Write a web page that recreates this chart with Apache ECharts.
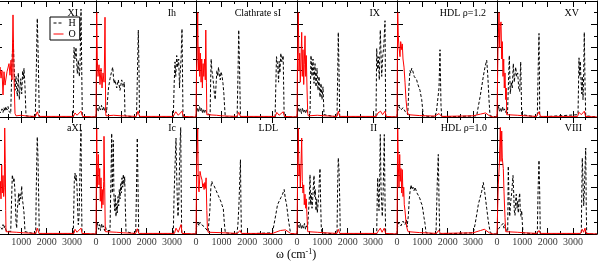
<!DOCTYPE html>
<html><head><meta charset="utf-8">
<script src="https://cdn.jsdelivr.net/npm/echarts@6/dist/echarts.min.js"></script>
<style>html,body{margin:0;padding:0;background:#fff}#c{width:598px;height:263px}</style>
</head><body><div id="c"></div>
<script>
// ---------------- data (ω in cm^-1, VDOS in arbitrary units) ----------------
const panelNames = ['XI','Ih','Clathrate sI','IX','HDL ρ=1.2','XV','aXI','Ic','LDL','II','HDL ρ=1.0','VIII'];
const xTickLabels = [0,1000,2000,3000];

const H_XI = [[0,0],[40,0.2],[79,0.4],[119,0.3],[158,0.5],[198,0.4],[237,0.7],[277,0.4],[316,0.8],[356,0.5],[395,0.9],[435,0.6],[474,0.9],[514,0.5],[553,0.4],[581,0.3],[612,3.0],[644,5.5],[683,6.6],[711,4.5],[751,2.3],[770,3.0],[790,3.5],[818,2.5],[841,1.8],[881,3.8],[920,1.5],[948,2.5],[976,3.3],[1015,2.0],[1055,4.0],[1078,3.3],[1106,4.2],[1146,2.6],[1185,0.1],[1552,0],[1592,4.0],[1620,7.5],[1631,8.5],[1659,6.0],[1687,3.0],[1710,0],[3053,0],[3081,6.0],[3121,5.0],[3160,6.0],[3211,3.75],[3251,4.9],[3290,3.5],[3318,4.3],[3358,9.3],[3409,0],[3950,0]];
const O_XI = [[0,0],[40,1.5],[79,2.5],[119,3.5],[158,4.3],[198,3.35],[237,4.0],[277,1.9],[316,3.9],[356,2.75],[435,3.9],[514,4.6],[553,3.6],[593,4.9],[632,3.2],[672,8.8],[711,3.5],[751,0.3],[790,0.1],[1000,0.15],[1200,0.08],[1560,0.05],[1631,0.45],[1700,0.05],[3060,0.05],[3120,0.35],[3200,0.15],[3358,0.5],[3420,0.05],[3950,0]];

const H_Ih = [[0,0],[20,0.5],[59,0.8],[99,0.5],[138,0.9],[178,0.6],[217,1.0],[257,0.6],[296,0.9],[336,0.5],[375,0.8],[415,0.4],[446,0.3],[494,2.5],[553,3.3],[604,3.8],[660,4.3],[711,2.9],[751,3.2],[818,2.5],[881,3.2],[948,2.3],[1015,3.2],[1078,2.6],[1118,3.0],[1146,0.1],[1600,0],[1639,4],[1671,7.5],[1699,4],[1718,0],[3053,0],[3090,3],[3121,4.75],[3150,3.5],[3188,5.3],[3227,4.3],[3267,5.0],[3300,2.5],[3318,3.5],[3360,5],[3397,7.6],[3437,0],[3950,0]];
const O_Ih = [[0,0],[15,5],[28,9.0],[51,5],[79,3.5],[119,4.5],[158,2.8],[198,4.2],[237,2.5],[277,3.8],[316,3.0],[336,5],[356,8.6],[383,0.3],[395,0.1],[700,0.15],[1000,0.1],[1590,0.05],[1660,0.5],[1720,0.05],[3050,0.05],[3150,0.45],[3250,0.15],[3397,0.5],[3450,0.05],[3950,0]];

const H_CL = [[0,0],[20,0.4],[59,0.8],[99,0.4],[138,0.9],[178,0.5],[217,0.8],[257,0.3],[296,0.7],[336,0.4],[375,0.6],[415,0.3],[474,0.2],[553,0.2],[573,3],[593,5.0],[620,4.0],[650,3.6],[683,2.9],[720,2.0],[751,1.5],[790,3.0],[818,4.0],[850,3.5],[881,4.3],[920,3.5],[950,3.2],[976,3.9],[1015,3.6],[1055,2.9],[1090,2.0],[1118,0.9],[1146,0],[1608,0],[1645,4],[1671,7.5],[1705,4],[1738,0],[3093,0],[3148,5.2],[3200,4.3],[3230,3.0],[3251,4.8],[3280,3.8],[3318,5.5],[3358,4.75],[3409,5.3],[3448,0],[3950,0]];
const O_CL = [[0,0],[20,4],[40,5],[67,9.0],[91,4],[119,6],[146,3.5],[170,5.5],[198,3],[225,5],[249,2.5],[277,4.6],[304,3.5],[336,5],[363,3.2],[383,7.5],[407,3],[423,0.2],[454,0.1],[800,0.15],[1000,0.1],[1600,0.05],[1671,0.4],[1740,0.05],[3100,0.05],[3160,0.4],[3250,0.15],[3409,0.45],[3460,0.05],[3950,0]];

const H_IX = [[0,0],[20,0.4],[59,0.8],[99,0.4],[138,0.7],[178,0.3],[217,0.8],[257,0.4],[296,0.6],[336,0.3],[375,0.7],[415,0.4],[474,0.3],[514,0.3],[553,5.3],[593,3.5],[632,5.0],[672,2.9],[711,4.6],[751,2.6],[790,4.2],[830,2.3],[869,3.5],[909,1.7],[948,2.9],[988,1.5],[1027,2.6],[1067,0.2],[1580,0],[1610,4],[1631,7.3],[1660,4],[1687,0],[3121,0],[3148,5.9],[3188,4.1],[3211,5.2],[3251,3.2],[3290,7.5],[3346,3.5],[3385,5.2],[3425,6.0],[3476,8.3],[3504,0],[3950,0]];
const O_IX = [[0,0],[20,5],[32,6],[51,9.0],[79,4],[107,5.5],[130,3],[158,5],[186,7.3],[209,3.5],[237,5.8],[265,2.8],[288,4.5],[316,7.0],[344,3.5],[367,5.3],[395,2.5],[423,0.3],[446,0.1],[800,0.15],[1100,0.1],[1580,0.05],[1631,0.5],[1690,0.05],[3130,0.05],[3200,0.35],[3300,0.5],[3380,0.2],[3476,0.5],[3520,0.05],[3950,0]];

const H_H12 = [[0,0],[20,0.5],[79,0.9],[158,0.6],[237,0.8],[316,0.5],[395,0.4],[423,0.2],[470,2.5],[514,4.0],[545,3.8],[581,4.2],[620,4.0],[650,3.9],[680,3.5],[711,3.6],[745,3.4],[778,3.2],[810,2.9],[841,2.75],[875,2.5],[909,2.3],[940,1.9],[976,1.5],[1039,0.1],[1501,0],[1560,0.5],[1620,0.6],[1659,2.5],[1699,5.8],[1738,1],[1766,0],[3148,0.1],[3211,0.9],[3279,1.7],[3346,2.6],[3409,3.5],[3476,4.3],[3543,4.9],[3583,3.7],[3634,1.5],[3674,0.1],[3950,0]];
const O_H12 = [[0,0],[15,5],[28,9.0],[51,7],[79,6],[119,5.2],[146,6.5],[186,5.8],[209,6.3],[237,5],[277,4.3],[316,3.0],[356,1.5],[395,0.6],[435,0.2],[514,0.15],[900,0.12],[1200,0.1],[1500,0.08],[1660,0.3],[1760,0.05],[3000,0.1],[3300,0.25],[3500,0.35],[3650,0.1],[3800,0],[3950,0]];

const H_XV = [[0,0],[20,0.5],[59,0.9],[99,0.5],[138,0.8],[178,0.4],[217,0.9],[257,0.5],[296,0.7],[336,0.4],[375,0.6],[415,0.3],[435,0.3],[486,5.3],[525,2.0],[565,3.0],[604,2.5],[644,4.6],[683,3.0],[739,4.3],[778,3.5],[818,3.8],[857,2.5],[897,2.2],[936,4.75],[976,0.2],[1592,0],[1625,4],[1659,7.2],[1675,4],[1687,0],[3200,0.2],[3239,5.1],[3267,3.5],[3290,4.8],[3318,3.2],[3346,2.0],[3369,3.5],[3397,1.5],[3425,3.8],[3448,7.3],[3476,3],[3504,0.1],[3950,0]];
const O_XV = [[0,0],[40,6],[79,9.0],[107,6],[130,7.8],[158,8.2],[186,5],[209,6.5],[237,3.5],[265,5],[288,2.5],[316,3.8],[344,1.5],[367,2.5],[383,0.2],[407,0.1],[800,0.15],[1100,0.1],[1560,0.05],[1659,0.45],[1720,0.05],[3180,0.05],[3240,0.4],[3330,0.2],[3448,0.5],[3500,0.05],[3950,0]];

const H_aXI = [[0,0],[79,0.4],[158,0.3],[198,0.6],[237,0.4],[277,0.8],[316,0.5],[356,0.7],[395,0.3],[474,0.2],[581,0.2],[644,5.06],[683,4.5],[711,4.8],[739,4.0],[762,3.0],[790,1.0],[818,0.5],[841,2.0],[869,2.8],[897,3.5],[920,2.5],[948,3.4],[976,3.0],[1015,4.1],[1039,3.0],[1067,2.6],[1106,1.8],[1146,0.2],[1568,0],[1592,4],[1620,7.5],[1631,8.3],[1659,6.5],[1687,3],[1710,0],[3053,0],[3093,4.5],[3121,5.2],[3148,4.6],[3172,5.0],[3200,4.0],[3227,2.0],[3251,0.8],[3279,1.5],[3306,4],[3330,7],[3358,8.9],[3385,2],[3397,0],[3950,0]];
const O_aXI = [[0,0],[79,2],[119,3],[158,3.5],[170,4.5],[198,3.0],[225,5.9],[249,3.5],[277,5.0],[304,3.2],[328,4],[344,9.06],[367,6],[383,2],[395,0.2],[435,0.1],[800,0.15],[1100,0.1],[1570,0.05],[1631,0.5],[1700,0.05],[3080,0.05],[3121,0.4],[3200,0.15],[3358,0.5],[3400,0.05],[3950,0]];

const H_Ic = [[0,0],[20,0.5],[59,0.9],[99,0.4],[138,0.8],[178,0.3],[217,0.9],[257,0.5],[296,0.7],[336,0.3],[375,0.6],[415,0.3],[474,0.4],[553,0.3],[593,5],[620,8.6],[644,3.5],[672,6.5],[683,8.0],[711,3],[739,2.0],[762,3.3],[790,1.5],[818,2.6],[841,1.8],[869,3.2],[897,2.4],[920,3.8],[948,3.0],[976,4.3],[999,3.5],[1027,4.8],[1055,4.0],[1078,5.1],[1106,4.2],[1134,4.9],[1157,2.5],[1185,0.2],[1568,0],[1600,4],[1631,8.2],[1660,4],[1687,0],[3053,0],[3081,3],[3109,5],[3132,6.5],[3160,8.2],[3188,5],[3211,3],[3239,1.5],[3267,2.5],[3290,5],[3318,7.5],[3346,9.1],[3369,3],[3385,0],[3950,0]];
const O_Ic = [[0,0],[15,5],[28,9.0],[51,4],[91,6.8],[119,4.2],[146,5.6],[170,2.8],[198,4.8],[225,2.2],[249,3.8],[277,2.5],[304,4.5],[316,8.35],[344,4],[367,0.2],[395,0.1],[800,0.15],[1100,0.1],[1570,0.05],[1631,0.45],[1690,0.05],[3100,0.05],[3160,0.5],[3250,0.15],[3358,0.8],[3400,0.05],[3950,0]];

const H_LDL = [[0,0],[20,0.6],[79,0.9],[119,0.7],[158,1.0],[217,0.8],[277,0.9],[336,0.6],[395,0.5],[474,0.2],[502,0.2],[541,2],[581,4.0],[620,4.5],[644,4.3],[672,4.4],[711,4.1],[751,3.9],[790,3.7],[830,3.6],[869,3.3],[909,3.1],[948,2.9],[988,2.7],[1027,2.4],[1067,2.2],[1106,1.0],[1146,0.1],[1600,0],[1639,0.8],[1679,2.5],[1710,4.5],[1738,6.35],[1758,2.5],[1778,0],[2990,0.1],[3121,1.65],[3188,2.5],[3251,2.8],[3318,3.1],[3385,3.4],[3448,3.8],[3488,3.1],[3543,2.5],[3622,1.1],[3685,0.23],[3753,0],[3950,0]];
const O_LDL = [[0,0],[28,6],[67,9.0],[91,4],[119,3.6],[158,5.35],[186,5.0],[209,5.1],[237,4.6],[265,4.0],[288,4.3],[316,3.8],[344,4.4],[367,3.9],[395,4.8],[423,2],[446,0.5],[474,0.15],[900,0.12],[1300,0.08],[1620,0.05],[1720,0.3],[1780,0.05],[2990,0.05],[3300,0.3],[3500,0.35],[3700,0.05],[3950,0]];

const H_II = [[0,0],[20,0.5],[59,0.8],[99,0.5],[138,0.9],[178,0.4],[217,0.8],[257,0.5],[296,0.9],[336,0.4],[375,0.7],[415,0.4],[462,0.3],[486,3],[514,5.06],[541,2.5],[565,3.5],[593,2.2],[620,3.0],[644,4.0],[672,5.0],[699,3.2],[723,3.8],[751,2.0],[778,3.0],[802,1.8],[830,2.5],[857,3.3],[881,4.5],[909,5.6],[936,2.5],[960,0.5],[988,0.1],[1580,0],[1608,4.5],[1631,6.5],[1659,5.5],[1687,3],[1710,0],[3148,0],[3172,3.5],[3188,4.8],[3211,3.5],[3239,2],[3267,5],[3290,8.5],[3318,4],[3346,2.5],[3369,1.5],[3397,3],[3425,6],[3448,8.5],[3476,3],[3504,0],[3950,0]];
const O_II = [[0,0],[28,6],[51,9.06],[79,5],[107,5.9],[130,4],[158,6],[186,8.2],[209,4.5],[237,3.5],[265,4.2],[288,2.5],[316,3.4],[344,2.2],[367,3.0],[395,1.5],[423,0.2],[446,0.1],[800,0.15],[1100,0.1],[1580,0.05],[1631,0.4],[1690,0.05],[3150,0.05],[3290,0.5],[3360,0.15],[3448,0.5],[3500,0.05],[3950,0]];

const H_H10 = [[0,0],[20,0.6],[79,1.0],[158,0.7],[237,1.1],[316,0.8],[375,1.2],[395,0.6],[407,0.5],[446,1.5],[486,3.0],[514,3.6],[553,4.2],[593,3.8],[632,4.0],[672,3.7],[711,4.0],[751,3.9],[790,3.5],[830,3.6],[869,3.2],[909,3.0],[948,2.7],[988,2.5],[1027,2.0],[1067,1.4],[1106,0.9],[1146,0.1],[1541,0],[1568,2.5],[1592,4.5],[1631,6.8],[1659,3],[1687,0],[3014,0.1],[3081,0.8],[3148,1.65],[3211,2.5],[3279,3.1],[3346,3.65],[3409,4.4],[3476,3.4],[3543,2.2],[3606,1.1],[3674,0.23],[3741,0],[3950,0]];
const O_H10 = [[0,0],[15,5],[28,9.0],[51,6],[79,4],[107,6.8],[130,4.5],[158,5.6],[186,3.5],[209,5.5],[237,3.2],[265,4],[288,2.5],[316,2.0],[356,1.0],[395,0.5],[435,0.2],[474,0.15],[900,0.12],[1300,0.08],[1560,0.05],[1640,0.3],[1720,0.05],[3000,0.1],[3300,0.3],[3450,0.4],[3650,0.1],[3800,0],[3950,0]];

const H_VIII = [[0,0],[20,0.3],[79,0.5],[158,0.6],[237,0.9],[277,0.5],[316,0.8],[356,0.4],[395,0.3],[423,0.2],[446,5.8],[474,3],[502,1.5],[525,2.2],[553,3.0],[581,3.5],[604,4.2],[632,5.0],[660,3.5],[683,2.0],[711,1.6],[739,3.0],[762,3.4],[790,2.2],[818,2.8],[841,1.8],[869,3.0],[897,3.5],[920,2.0],[948,1.5],[976,2.0],[999,1.0],[1027,0.1],[1592,0],[1620,3.5],[1647,5.5],[1659,6.3],[1687,3.5],[1710,0],[3330,0],[3346,3],[3369,6.5],[3397,4.5],[3425,2.4],[3448,3.5],[3476,5.5],[3504,7.35],[3527,2],[3543,0],[3950,0]];
const O_VIII = [[0,0],[51,4.2],[91,5.9],[130,9.1],[158,6.2],[186,8.8],[209,6.5],[249,5.6],[277,3.6],[316,1.4],[344,0.2],[375,0.1],[800,0.15],[1100,0.1],[1580,0.05],[1659,0.3],[1720,0.05],[3300,0.05],[3369,0.4],[3420,0.15],[3476,0.5],[3520,0.05],[3950,0]];

const H_series = [H_XI,H_Ih,H_CL,H_IX,H_H12,H_XV,H_aXI,H_Ic,H_LDL,H_II,H_H10,H_VIII];
const O_series = [O_XI,O_Ih,O_CL,O_IX,O_H12,O_XV,O_aXI,O_Ic,O_LDL,O_II,O_H10,O_VIII];

// ---------------- layout ----------------
const SERIF = 'Liberation Serif, Times New Roman, serif';
const colLeft = [-4, 96, 196, 297, 397, 497];
const rowTop = [1, 117], rowH = [116, 117];
const labelRight = [520, 422, 317, 218, 112, 19, 516, 422, 320, 221, 111, 16];
const X_MAX = 3950;

const grids = [], xAxes = [], yAxes = [], series = [], titles = [];
const frame = () => ({show:true, onZero:false, lineStyle:{color:'#000', width:1}});
for (let g = 0; g < 12; g++) {
  const r = g < 6 ? 0 : 1, c = g % 6;
  const w = c < 5 ? colLeft[c+1] - colLeft[c] : 100;
  grids.push({left: colLeft[c], top: rowTop[r], width: w, height: rowH[r],
    containLabel:false, outerBoundsMode:'none'});
  const xBase = () => ({type:'value', gridIndex:g, min:0, max:X_MAX, interval:1000,
    axisLine: frame(), splitLine:{show:false}, minorSplitLine:{show:false},
    axisTick:{show:true, inside:true, length:6, lineStyle:{color:'#000', width:1}},
    minorTick:{show:true, splitNumber:2, length:3, lineStyle:{color:'#000', width:1}},
    axisLabel:{show:false}});
  xAxes.push(Object.assign(xBase(), {position:'bottom'}));
  xAxes.push(Object.assign(xBase(), {position:'top'}));
  const yBase = () => ({type:'value', gridIndex:g, min:0, max:10, interval:2,
    axisLine: frame(), splitLine:{show:false}, minorSplitLine:{show:false},
    axisTick:{show:true, inside:true, length:6, lineStyle:{color:'#000', width:1}},
    minorTick:{show:true, splitNumber:2, length:3, lineStyle:{color:'#000', width:1}},
    axisLabel:{show:false}});
  yAxes.push(Object.assign(yBase(), {position:'left'}));
  yAxes.push(Object.assign(yBase(), {position:'right'}));
  series.push({type:'line', name:'H', data:H_series[g], xAxisIndex:2*g, yAxisIndex:2*g,
    symbol:'none', silent:true, clip:true,
    lineStyle:{color:'#000', width:1, type:[3,2]}, itemStyle:{color:'#000'}});
  series.push({type:'line', name:'O', data:O_series[g], xAxisIndex:2*g, yAxisIndex:2*g,
    symbol:'none', silent:true, clip:true,
    lineStyle:{color:'#ff0000', width:1}, itemStyle:{color:'#ff0000'}});
  if (r === 1) {
    // tick labels of the bottom row, placed through the panel's own x scale
    series.push({type:'scatter', name:'tick', data: xTickLabels.map(v => [v, 0]),
      xAxisIndex:2*g, yAxisIndex:2*g, symbolSize:0, silent:true, clip:false, z:5,
      itemStyle:{color:'rgba(0,0,0,0)'},
      label:{show:true, position:'bottom', distance:3, formatter: p => String(p.value[0]),
        fontFamily:SERIF, fontSize:10, color:'#000'},
      labelLayout:{hideOverlap:false}});
  }
  titles.push({text: panelNames[g], right: labelRight[g], top: r === 0 ? 8 : 123, padding:0,
    textStyle:{fontFamily:SERIF, fontSize:10, fontWeight:'normal', color:'#000'}});
}
titles.push({text:'{a|ω (cm}{b|-1}{a|)}', left:276, top:248, padding:0,
  textStyle:{fontWeight:'normal', rich:{
    a:{fontFamily:SERIF, fontSize:12, fontWeight:'normal', color:'#000', lineHeight:14},
    b:{fontFamily:SERIF, fontSize:8, fontWeight:'normal', color:'#000', verticalAlign:'top', lineHeight:14}}}});

const chart = echarts.init(document.getElementById('c'), null, {renderer:'canvas'});
chart.setOption({
  animation:false,
  backgroundColor:'#fff',
  title: titles,
  legend:{data:['H','O'], orient:'vertical', left:50, top:17, selectedMode:false,
    itemWidth:10, itemHeight:2, itemGap:1, padding:[1,4,1,3],
    itemStyle:{opacity:0}, lineStyle:{width:1},
    borderColor:'#000', borderWidth:1, backgroundColor:'#fff',
    textStyle:{fontFamily:SERIF, fontSize:10, color:'#000', lineHeight:10}},
  grid: grids, xAxis: xAxes, yAxis: yAxes, series: series
});
</script></body></html>
